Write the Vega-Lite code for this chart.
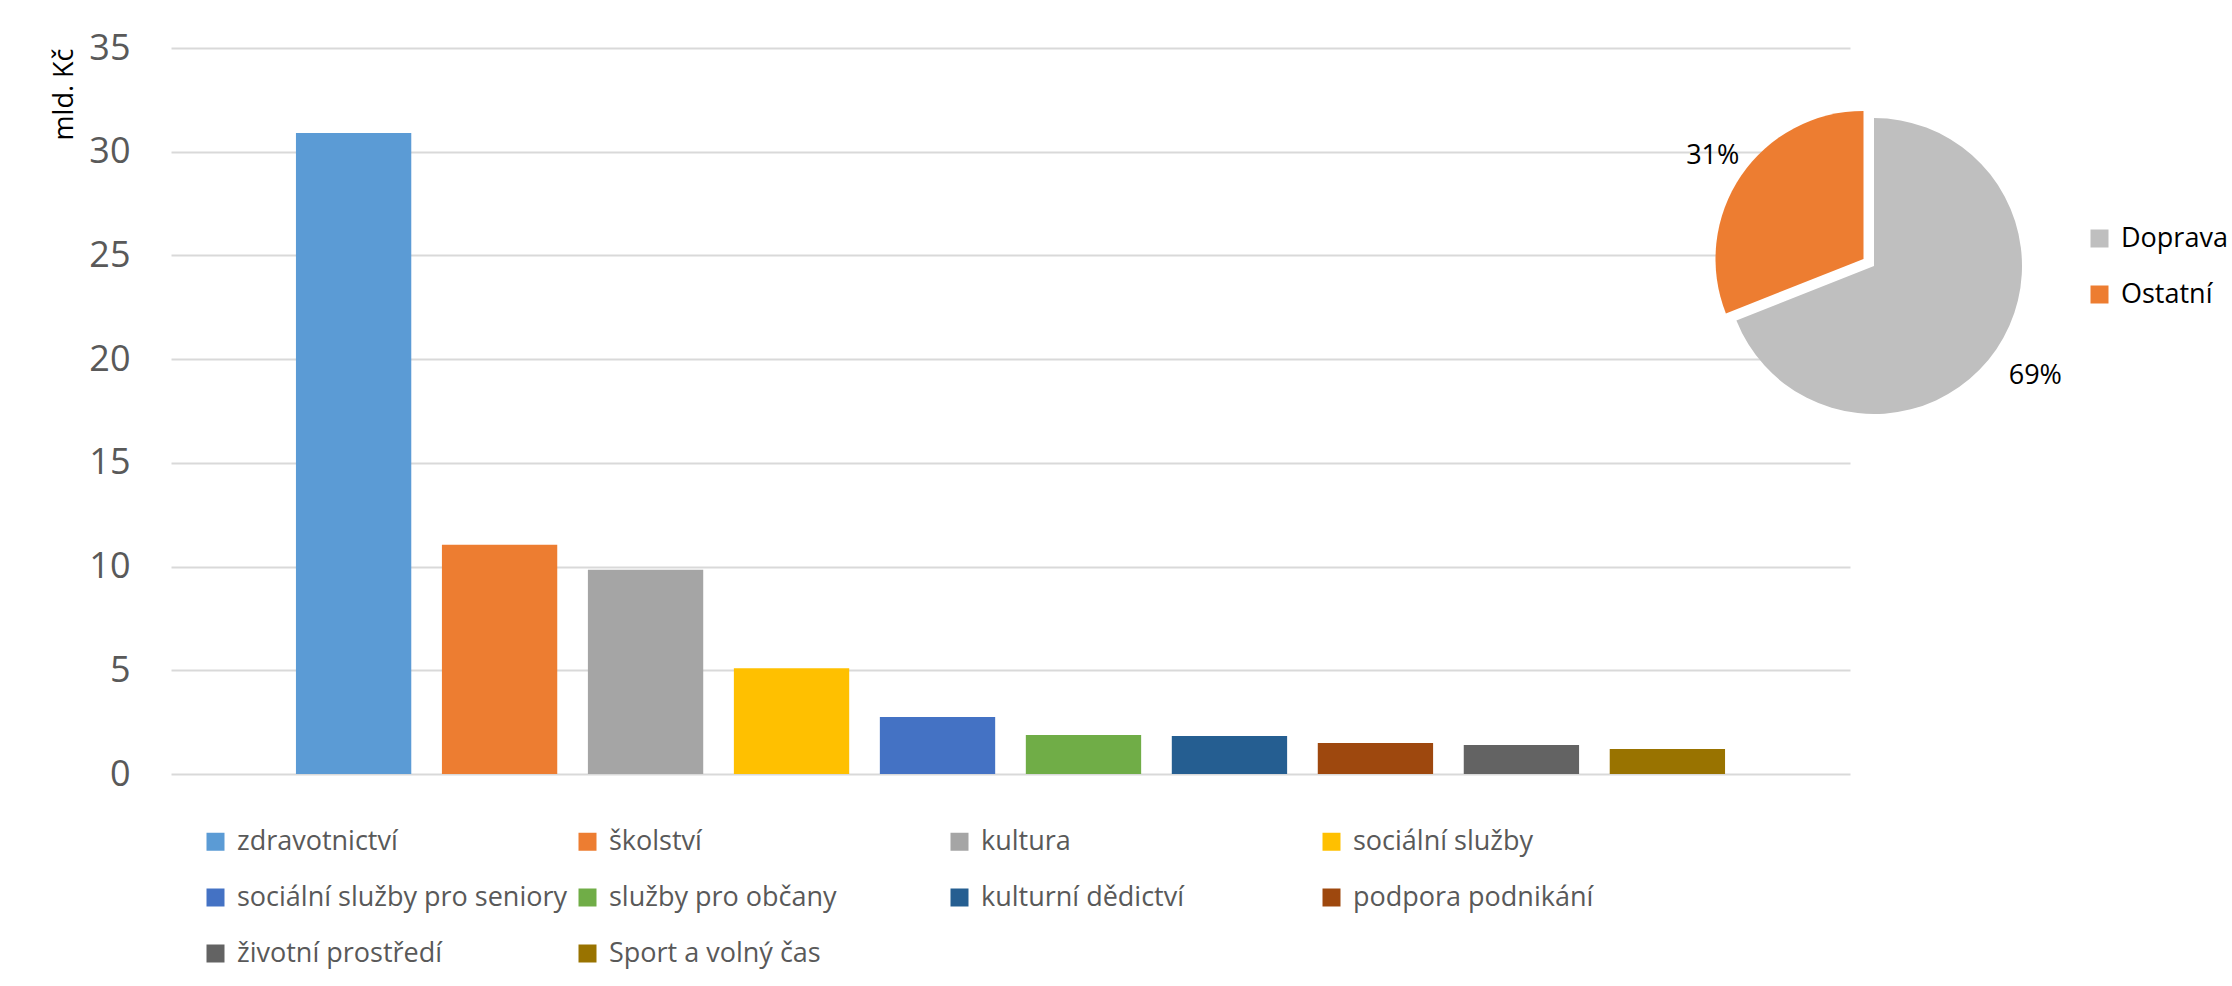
{
  "$schema": "https://vega.github.io/schema/vega-lite/v6.json",
  "background": "white",
  "padding": {"left": 50, "top": 30, "right": 0, "bottom": 12},
  "autosize": {"type": "pad"},
  "spacing": 0,
  "bounds": "flush",
  "resolve": {"scale": {"color": "independent"}, "legend": {"color": "independent"}},
  "config": {
    "font": "Open Sans",
    "view": {"stroke": null},
    "text": {"font": "Open Sans"}
  },
  "hconcat": [
    {
      "width": 1679,
      "height": 726,
      "data": {
        "values": [
          {"oblast": "zdravotnictví", "hodnota": 30.9},
          {"oblast": "školství", "hodnota": 11.05},
          {"oblast": "kultura", "hodnota": 9.85},
          {"oblast": "sociální služby", "hodnota": 5.1},
          {"oblast": "sociální služby pro seniory", "hodnota": 2.75},
          {"oblast": "služby pro občany", "hodnota": 1.88},
          {"oblast": "kulturní dědictví", "hodnota": 1.83},
          {"oblast": "podpora podnikání", "hodnota": 1.5},
          {"oblast": "životní prostředí", "hodnota": 1.4},
          {"oblast": "Sport a volný čas", "hodnota": 1.2}
        ]
      },
      "mark": {"type": "bar"},
      "encoding": {
        "x": {
          "field": "oblast",
          "type": "nominal",
          "sort": null,
          "axis": null,
          "scale": {"paddingInner": 0.21, "paddingOuter": 0.856}
        },
        "y": {
          "field": "hodnota",
          "type": "quantitative",
          "scale": {"domain": [0, 35], "nice": false},
          "axis": {
            "values": [0, 5, 10, 15, 20, 25, 30, 35],
            "title": "mld. Kč",
            "titleFont": "Open Sans",
            "titleFontSize": 27,
            "titleFontWeight": "normal",
            "titleColor": "#000000",
            "titleAnchor": "end",
            "titlePadding": 10,
            "labelFont": "Open Sans",
            "labelFontSize": 36,
            "labelColor": "#595959",
            "labelPadding": 41,
            "ticks": false,
            "domain": false,
            "gridColor": "#d9d9d9",
            "gridWidth": 2
          }
        },
        "color": {
          "field": "oblast",
          "type": "nominal",
          "sort": null,
          "scale": {
            "domain": ["zdravotnictví", "školství", "kultura", "sociální služby", "sociální služby pro seniory", "služby pro občany", "kulturní dědictví", "podpora podnikání", "životní prostředí", "Sport a volný čas"],
            "range": ["#5B9BD5", "#ED7D31", "#A5A5A5", "#FFC000", "#4472C4", "#70AD47", "#255E91", "#9E480E", "#636363", "#997300"]
          },
          "legend": {
            "orient": "none",
            "legendX": 31,
            "legendY": 780,
            "direction": "horizontal",
            "columns": 4,
            "gridAlign": "all",
            "title": null,
            "symbolType": "square",
            "symbolSize": 324,
            "symbolStrokeWidth": 0,
            "labelFont": "Open Sans",
            "labelFontSize": 27,
            "labelColor": "#595959",
            "labelOffset": 8,
            "columnPadding": 6,
            "rowPadding": 28,
            "labelLimit": 600,
            "padding": 0
          }
        }
      }
    },
    {
      "width": 48,
      "height": 436,
      "data": {
        "values": [
          {"kategorie": "Doprava", "podil": 69, "popisek": "69%"},
          {"kategorie": "Ostatní", "podil": 31, "popisek": "31%"}
        ]
      },
      "layer": [
        {
          "transform": [
            {"stack": "podil", "groupby": [], "sort": [{"field": "kategorie"}], "as": ["t0", "t1"]},
            {"filter": "datum.kategorie === 'Doprava'"}
          ],
          "mark": {"type": "arc", "outerRadius": 148},
          "encoding": {
            "theta": {"field": "t0", "type": "quantitative", "scale": {"domain": [0, 100]}},
            "theta2": {"field": "t1"},
            "color": {
              "field": "kategorie",
              "type": "nominal",
              "scale": {"domain": ["Doprava", "Ostatní"], "range": ["#BFBFBF", "#ED7D31"]},
              "legend": {
                "orient": "none",
                "legendX": 236,
                "legendY": 177,
                "title": null,
                "direction": "vertical",
                "symbolType": "square",
                "symbolSize": 324,
                "symbolStrokeWidth": 0,
                "labelFont": "Open Sans",
                "labelFontSize": 27,
                "labelColor": "#000000",
                "labelOffset": 8,
                "rowPadding": 28,
                "padding": 0
              }
            }
          }
        },
        {
          "transform": [
            {"stack": "podil", "groupby": [], "sort": [{"field": "kategorie"}], "as": ["t0", "t1"]},
            {"filter": "datum.kategorie === 'Ostatní'"}
          ],
          "mark": {"type": "arc", "outerRadius": 148, "xOffset": -10.5, "yOffset": -7},
          "encoding": {
            "theta": {"field": "t0", "type": "quantitative", "scale": {"domain": [0, 100]}},
            "theta2": {"field": "t1"},
            "color": {"field": "kategorie", "type": "nominal"}
          }
        },
        {
          "mark": {"type": "text", "radius": 195, "fontSize": 27, "align": "center", "baseline": "middle", "font": "Open Sans"},
          "encoding": {
            "theta": {"field": "podil", "type": "quantitative", "stack": true},
            "order": {"field": "kategorie", "sort": "ascending"},
            "text": {"field": "popisek"},
            "color": {"value": "#000000"}
          }
        }
      ]
    }
  ]
}
